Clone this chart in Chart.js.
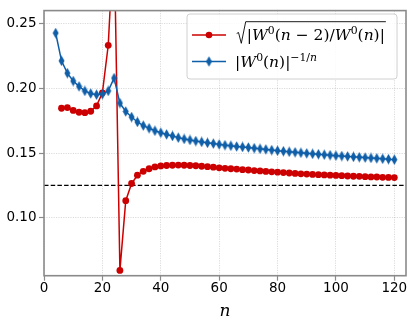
<!DOCTYPE html>
<html>
<head>
<meta charset="utf-8">
<script src="https://cdn.jsdelivr.net/npm/chart.js@4.4.1/dist/chart.umd.min.js"></script>
<style>
  html, body { margin: 0; padding: 0; background: #fff; }
  #wrap { width: 414px; height: 327px; }
</style>
</head>
<body>
<div id="wrap"><canvas id="chart" width="414" height="327"></canvas></div>
<script>
// n values and sqrt|W0(n-2)/W0(n)| (red)
const nRatio = [6, 8, 10, 12, 14, 16, 18, 20, 22, 24, 26, 28, 30, 32, 34, 36, 38, 40,
  42, 44, 46, 48, 50, 52, 54, 56, 58, 60, 62, 64, 66, 68, 70, 72, 74, 76, 78, 80,
  82, 84, 86, 88, 90, 92, 94, 96, 98, 100, 102, 104, 106, 108, 110, 112, 114, 116, 118, 120];
const ratioValues = [0.1846, 0.1851, 0.1829, 0.1815, 0.1812, 0.1823, 0.1864, 0.1965, 0.2332, 0.32,
  0.0594, 0.1132, 0.1265, 0.1329, 0.1359, 0.1379, 0.1393, 0.1401,
  0.1404, 0.1406, 0.1407, 0.1406, 0.1404, 0.1402, 0.1398, 0.1395, 0.1391, 0.1386,
  0.1382, 0.1379, 0.1376, 0.1372, 0.1369, 0.1365, 0.1362, 0.1358, 0.1355, 0.1352,
  0.1349, 0.1346, 0.1343, 0.1340, 0.1338, 0.1335, 0.1333, 0.1331, 0.1329, 0.1327,
  0.1325, 0.1323, 0.1321, 0.1320, 0.1318, 0.1316, 0.1315, 0.1313, 0.1312, 0.1311];

// n values and |W0(n)|^(-1/n) (blue)
const nRoot = [4, 6, 8, 10, 12, 14, 16, 18, 20, 22, 24, 26, 28, 30, 32, 34, 36, 38, 40,
  42, 44, 46, 48, 50, 52, 54, 56, 58, 60, 62, 64, 66, 68, 70, 72, 74, 76, 78, 80,
  82, 84, 86, 88, 90, 92, 94, 96, 98, 100, 102, 104, 106, 108, 110, 112, 114, 116, 118, 120];
const rootValues = [0.2427, 0.2212, 0.2117, 0.2056, 0.2015, 0.1980, 0.1960, 0.1951, 0.1955, 0.1980,
  0.2079, 0.1886, 0.1821, 0.1778, 0.1740, 0.1712, 0.1692, 0.1672, 0.1657,
  0.1644, 0.1632, 0.1619, 0.1609, 0.1601, 0.1593, 0.1586, 0.1579, 0.1573, 0.1567,
  0.1561, 0.1556, 0.1551, 0.1547, 0.1543, 0.1538, 0.1533, 0.1528, 0.1523, 0.1518,
  0.1514, 0.1510, 0.1506, 0.1502, 0.1498, 0.1494, 0.1491, 0.1487, 0.1484, 0.1480,
  0.1477, 0.1474, 0.1471, 0.1468, 0.1465, 0.1462, 0.1459, 0.1456, 0.1453, 0.1449];

const limitValue = 0.125;  // dashed horizontal line
const xTicks = [0, 20, 40, 60, 80, 100, 120];
const yTicks = [0.10, 0.15, 0.20, 0.25];
const xLimits = [0, 124];
const yLimits = [0.0553, 0.26];

const RED = '#cc0000';
const BLUE = '#0f5ea8';
const SPINE = '#8a8a8a';

// thin diamond marker (matplotlib 'd')
function thinDiamond(color) {
  const c = document.createElement('canvas');
  c.width = 7; c.height = 11;
  const g = c.getContext('2d');
  g.fillStyle = color;
  g.beginPath();
  g.moveTo(3.5, 0.3); g.lineTo(6.5, 5.5); g.lineTo(3.5, 10.7); g.lineTo(0.5, 5.5);
  g.closePath();
  g.fill();
  return c;
}
const diamond = thinDiamond(BLUE);

// draws a row of math text, runs = [{t, it, sup}]
function drawMath(ctx, runs, x, y, size) {
  for (const r of runs) {
    const fs = r.sup ? size * 0.7 : size;
    ctx.font = (r.it ? 'italic ' : '') + fs + 'px "DejaVu Serif"';
    ctx.fillText(r.t, x, r.sup ? y - size * 0.4 : y);
    x += ctx.measureText(r.t).width;
  }
  return x;
}

const row1 = [
  {t: '|'}, {t: 'W', it: true}, {t: '0', sup: true}, {t: '('}, {t: 'n', it: true},
  {t: ' \u2212 2)/'}, {t: 'W', it: true}, {t: '0', sup: true}, {t: '('}, {t: 'n', it: true}, {t: ')|'}
];
const row2 = [
  {t: '|'}, {t: 'W', it: true}, {t: '0', sup: true}, {t: '('}, {t: 'n', it: true}, {t: ')|'},
  {t: '\u22121/', sup: true}, {t: 'n', it: true, sup: true}
];

const framePlugin = {
  id: 'frameAndLegend',
  afterDatasetsDraw(chart) {
    const {ctx, chartArea: a} = chart;
    ctx.save();
    // spines
    ctx.strokeStyle = SPINE;
    ctx.lineWidth = 1.6;
    ctx.strokeRect(a.left, a.top, a.right - a.left, a.bottom - a.top);

    // legend box
    const bx = 187, by = 14, bw = 210, bh = 65, rr = 3;
    ctx.beginPath();
    ctx.moveTo(bx + rr, by);
    ctx.arcTo(bx + bw, by, bx + bw, by + bh, rr);
    ctx.arcTo(bx + bw, by + bh, bx, by + bh, rr);
    ctx.arcTo(bx, by + bh, bx, by, rr);
    ctx.arcTo(bx, by, bx + bw, by, rr);
    ctx.closePath();
    ctx.fillStyle = 'rgba(255,255,255,0.85)';
    ctx.fill();
    ctx.strokeStyle = '#d0d0d0';
    ctx.lineWidth = 1;
    ctx.stroke();

    // legend handles
    const hx0 = 192, hx1 = 226, hm = 209;
    const ry1 = 35, ry2 = 61.5;
    ctx.lineWidth = 1.5;
    ctx.strokeStyle = RED;
    ctx.beginPath(); ctx.moveTo(hx0, ry1); ctx.lineTo(hx1, ry1); ctx.stroke();
    ctx.fillStyle = RED;
    ctx.beginPath(); ctx.arc(hm, ry1, 3.3, 0, Math.PI * 2); ctx.fill();
    ctx.strokeStyle = BLUE;
    ctx.beginPath(); ctx.moveTo(hx0, ry2); ctx.lineTo(hx1, ry2); ctx.stroke();
    ctx.drawImage(diamond, hm - 3.5, ry2 - 5.5);

    // legend text
    ctx.fillStyle = '#000';
    ctx.textBaseline = 'alphabetic';
    ctx.textAlign = 'left';
    const size = 15.5;
    const b1 = 40, x1 = 236.7;
    const end1 = drawMath(ctx, row1, x1 + 10, b1, size);
    ctx.strokeStyle = '#000';
    ctx.lineWidth = 0.9;
    ctx.beginPath();
    ctx.moveTo(x1, b1 - 6.5);
    ctx.lineTo(x1 + 1.8, b1 - 7.5);
    ctx.lineTo(x1 + 4.6, b1 + 3.3);
    ctx.lineTo(x1 + 9, b1 - 18.3);
    ctx.lineTo(end1 + 1, b1 - 18.3);
    ctx.stroke();
    drawMath(ctx, row2, 235, 67, size);
    ctx.restore();
  }
};

const ctx = document.getElementById('chart').getContext('2d');
new Chart(ctx, {
  type: 'line',
  data: {
    datasets: [
      {
        label: '|W0(n)|^(-1/n)',
        data: nRoot.map((n, i) => ({x: n, y: rootValues[i]})),
        borderColor: BLUE,
        backgroundColor: BLUE,
        borderWidth: 1.5,
        pointStyle: diamond,
        pointRadius: 4,
        order: 0
      },
      {
        label: 'sqrt|W0(n-2)/W0(n)|',
        data: nRatio.map((n, i) => ({x: n, y: ratioValues[i]})),
        borderColor: RED,
        backgroundColor: RED,
        borderWidth: 1.5,
        pointStyle: 'circle',
        pointRadius: 3.4,
        pointBorderWidth: 0,
        order: 1
      },
      {
        label: 'limit',
        data: [{x: xLimits[0], y: limitValue}, {x: xLimits[1], y: limitValue}],
        borderColor: '#000',
        borderWidth: 1.3,
        borderDash: [4.5, 2.2],
        pointRadius: 0,
        order: 2
      }
    ]
  },
  options: {
    responsive: false,
    animation: false,
    devicePixelRatio: 1,
    layout: { padding: { top: 5.3, right: 8, left: 0, bottom: 0 } },
    plugins: {
      legend: { display: false },
      tooltip: { enabled: false }
    },
    scales: {
      x: {
        type: 'linear',
        min: xLimits[0],
        max: xLimits[1],
        afterFit: s => { s.height = 51.3; },
        afterBuildTicks: s => { s.ticks = xTicks.map(v => ({value: v})); },
        ticks: {
          padding: 0,
          color: '#000',
          font: { family: 'DejaVu Sans', size: 13.5 },
          maxRotation: 0
        },
        grid: { color: 'rgba(0,0,0,0.16)', lineWidth: 0.9, tickLength: 5, tickColor: SPINE, tickWidth: 1.2 },
        border: { display: false, dash: [1.2, 1.2] },
        title: {
          display: true,
          text: 'n',
          color: '#000',
          font: { family: 'DejaVu Serif', size: 17, style: 'italic' },
          padding: { top: 0, bottom: 5.6 }
        }
      },
      y: {
        min: yLimits[0],
        max: yLimits[1],
        afterFit: s => { s.width = 44; },
        afterBuildTicks: s => { s.ticks = yTicks.map(v => ({value: v})); },
        ticks: {
          padding: 2.5,
          color: '#000',
          font: { family: 'DejaVu Sans', size: 13.5 },
          callback: v => v.toFixed(2)
        },
        grid: { color: 'rgba(0,0,0,0.16)', lineWidth: 0.9, tickLength: 5, tickColor: SPINE, tickWidth: 1.2 },
        border: { display: false, dash: [1.2, 1.2] }
      }
    }
  },
  plugins: [framePlugin]
});
</script>
</body>
</html>
